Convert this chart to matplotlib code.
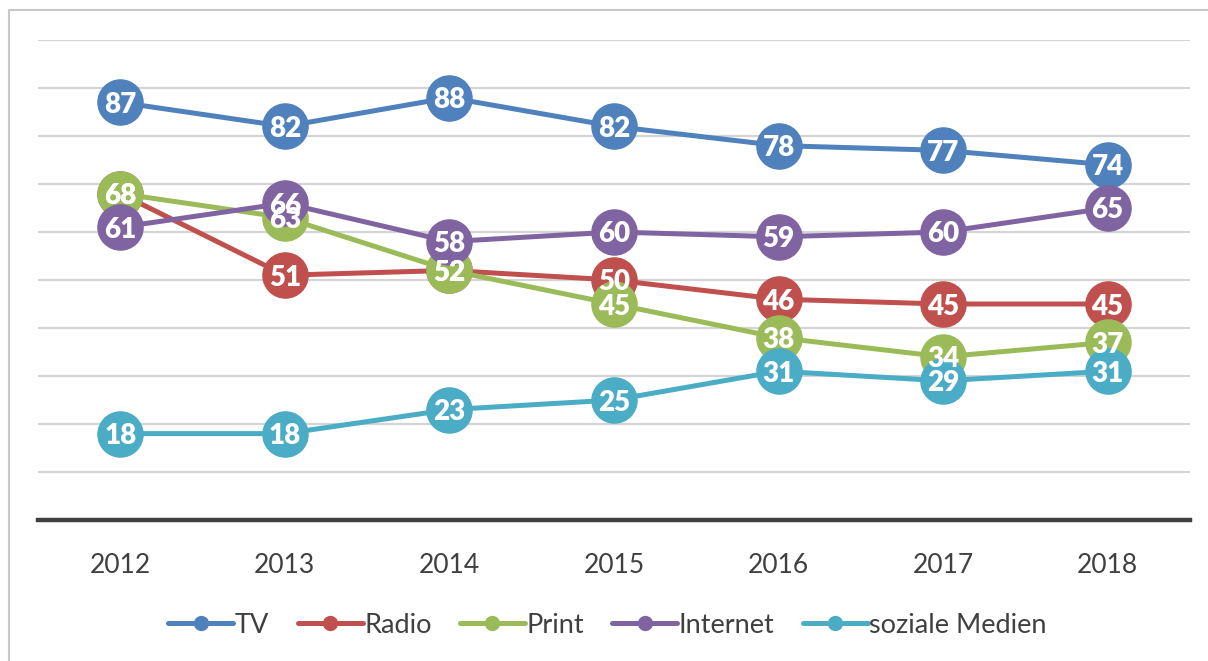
import matplotlib
matplotlib.use("Agg")
import matplotlib.pyplot as plt
from matplotlib.patches import Rectangle
from matplotlib.lines import Line2D

# ---------------------------------------------------------------------
# Data
# ---------------------------------------------------------------------
years = ["2012", "2013", "2014", "2015", "2016", "2017", "2018"]

tv = [87, 82, 88, 82, 78, 77, 74]
radio = [68, 51, 52, 50, 46, 45, 45]
printmedia = [68, 63, 52, 45, 38, 34, 37]
internet = [61, 66, 58, 60, 59, 60, 65]
social = [18, 18, 23, 25, 31, 29, 31]

series_names = ["TV", "Radio", "Print", "Internet", "soziale Medien"]
series_values = [tv, radio, printmedia, internet, social]
colors = ["#4f81bd", "#c0504d", "#9bbb59", "#8064a2", "#4bacc6"]

plt.rcParams['font.family'] = ['Lato', 'DejaVu Sans']

fig = plt.figure(figsize=(12.08, 6.61), dpi=100)
ax = fig.add_axes([0.0315, 0.2133, 0.9535, 0.7262])

x = list(range(len(years)))
for i, (name, vals, c) in enumerate(zip(series_names, series_values, colors)):
    ax.plot(x, vals, '-', color=c, lw=3.6, zorder=3 + i, solid_capstyle='round')
    ax.plot(x, vals, 'o', color=c, ms=32.5, mec=c, zorder=3 + i)
    for xi, v in zip(x, vals):
        ax.text(xi, v, f"{v:.0f}", color='white', fontsize=20, fontweight='heavy',
                ha='center', va='center_baseline', zorder=20)

ax.set_xlim(-0.5, 6.5)
ax.set_ylim(0, 100)
ax.set_yticks(range(10, 101, 10))
ax.yaxis.grid(True, color='#d4d4d4', lw=1.6, zorder=0)
ax.set_yticklabels([])
ax.tick_params(axis='y', length=0)
ax.set_xticks(x)
ax.set_xticklabels(years, fontsize=19, color='#404040')
ax.tick_params(axis='x', length=0, pad=24)
for s in ['top', 'right', 'left']:
    ax.spines[s].set_visible(False)
ax.spines['bottom'].set_color('#404040')
ax.spines['bottom'].set_linewidth(3.2)
ax.spines['bottom'].set_zorder(30)

handles = [Line2D([0], [0], color=c, lw=3.6, marker='o', ms=10, solid_capstyle='round')
           for c in colors]
fig.legend(handles, series_names, loc='center', bbox_to_anchor=(0.503, 0.054),
           ncol=5, frameon=False, fontsize=19.5, handlelength=2.4, handletextpad=0.05,
           columnspacing=1.05, labelcolor='#404040')

# outer chart border
fig.patches.append(Rectangle((0.0075, -0.1), 1.2, 1.085, transform=fig.transFigure,
                             fill=False, edgecolor='#c8c8c8', lw=1.5))

fig.savefig("out.png", dpi=100)
